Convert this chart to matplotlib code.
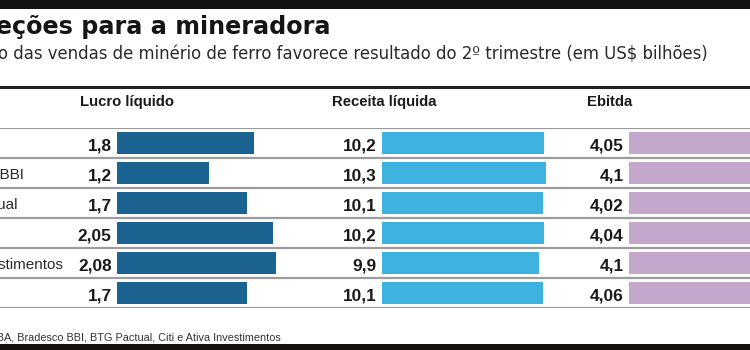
import matplotlib

matplotlib.use("Agg")

import matplotlib.pyplot as plt
import numpy as np

W, H = 750, 350

bancos = ["Itaú BBA", "Bradesco BBI", "BTG Pactual", "Citi", "Ativa Investimentos", "Média"]
lucro = [1.8, 1.2, 1.7, 2.05, 2.08, 1.7]
receita = [10.2, 10.3, 10.1, 10.2, 9.9, 10.1]
ebitda = [4.05, 4.1, 4.02, 4.04, 4.1, 4.06]

titulo = "Projeções para a mineradora"
subtitulo = "Aumento das vendas de minério de ferro favorece resultado do 2º trimestre (em US$ bilhões)"
fonte = "Fonte: Itaú BBA, Bradesco BBI, BTG Pactual, Citi e Ativa Investimentos"

# column layout in pixels: header x, bar start, axes end, px per unit
colunas = [
    ("Lucro líquido", lucro, "#1b6390", 80, 117, 300, 76.3),
    ("Receita líquida", receita, "#3fb3df", 332, 382, 560, 15.9),
    ("Ebitda", ebitda, "#c4a8cb", 587, 629, 750, 76.3),
]

SANS = "Liberation Sans"
TOP, BOTTOM = 128, 308  # table rows band
n = len(bancos)


def fmt(v):
    return f"{v:g}".replace(".", ",")


fig = plt.figure(figsize=(W / 100, H / 100), dpi=100)

bg = fig.add_axes([0, 0, 1, 1])
bg.set_xlim(0, W)
bg.set_ylim(H, 0)
bg.axis("off")
bg.axhspan(0, 9, color="#141210", lw=0)
bg.axhspan(344, H, color="#141210", lw=0)
bg.axhline(86.5, color="#222222", lw=2.2)

bg.text(330, 34, titulo, ha="right", va="baseline", fontsize=17.2,
        fontweight="bold", family="DejaVu Sans", color="#151515")
bg.text(708, 59, subtitulo, ha="right", va="baseline", fontsize=11.9,
        family="DejaVu Sans", color="#2a2a2a")
bg.text(281, 341, fonte, ha="right", va="baseline", fontsize=7.8,
        family=SANS, color="#333333")

tbl = fig.add_axes([0, 1 - BOTTOM / H, 1, (BOTTOM - TOP) / H])
tbl.set_xlim(0, W)
tbl.set_ylim(n - 0.5, -0.5)
tbl.axis("off")
tbl.hlines(np.arange(n + 1) - 0.5, 0, W, color="#9c9c9c", lw=1.6)
for i, nome in enumerate(bancos):
    tbl.text(-69, i + 0.2, nome, ha="left", va="baseline", fontsize=11,
             family=SANS, color="#2a2a2a")

for header, vals, cor, hx, x0, x1, ppu in colunas:
    bg.text(hx, 106, header, ha="left", va="baseline", fontsize=10.7,
            fontweight="bold", family=SANS, color="#1a1a1a")
    ax = fig.add_axes([x0 / W, 1 - BOTTOM / H, (x1 - x0) / W, (BOTTOM - TOP) / H])
    ax.patch.set_alpha(0)
    ax.barh(np.arange(n), vals, height=0.72, color=cor)
    ax.set_xlim(0, (x1 - x0) / ppu)
    ax.set_ylim(n - 0.5, -0.5)
    ax.axis("off")
    for i, v in enumerate(vals):
        ax.annotate(fmt(v), (0, i + 0.24), xytext=(-3.8, 0), textcoords="offset points",
                    ha="right", va="baseline", fontsize=12.4, fontweight="bold",
                    family=SANS, color="#1a1a1a", annotation_clip=False)

fig.savefig("out.png", dpi=100)
